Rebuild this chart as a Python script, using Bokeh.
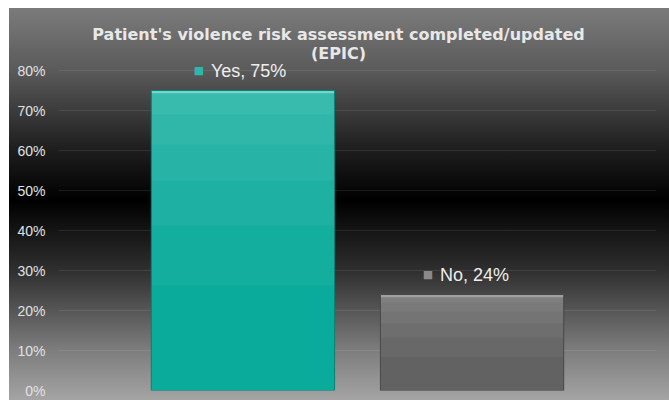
from bokeh.plotting import figure
from bokeh.models import ColumnDataSource, FactorRange, Range1d, LabelSet, Label, NumeralTickFormatter, FixedTicker
from bokeh.core.properties import value
from bokeh.embed import file_html
from bokeh.resources import INLINE

# ---- data ----
title_line1 = "Patient's violence risk assessment completed/updated"
title_line2 = "(EPIC)"
categories = ["Yes", "No"]
values = [0.75, 0.24]
bar_colors = ["#0aab9b", "#626262"]
edge_colors = ["#0a8176", "#484848"]
top_colors = ["#72d6cc", "#a0a0a0"]
marker_colors = ["#2ab8aa", "#8a8a8a"]
y_ticks = [0.0, 0.1, 0.2, 0.3, 0.4, 0.5, 0.6, 0.7, 0.8]

labels = [f"{c}, {round(v * 100)}%" for c, v in zip(categories, values)]
source = ColumnDataSource(dict(
    cat=categories,
    val=values,
    hl_bottom=[v - 0.007 for v in values],
    color=bar_colors,
    edge=edge_colors,
    top_color=top_colors,
    mcolor=marker_colors,
    label=labels,
    marker=["\u25A0"] * len(categories),
))

p = figure(
    width=669, height=400,
    x_range=FactorRange(factors=categories, range_padding=0.305, range_padding_units="absolute"),
    y_range=Range1d(0, 0.955),
    output_backend="svg", toolbar_location=None,
    min_border_left=58, min_border_right=13, min_border_top=8, min_border_bottom=10,
)

p.styles = {
    "background": "linear-gradient(to bottom, #7b7b7b 0%, #5a5a5a 16%, #1e1e1e 36%, #000000 49%, "
                  "#2f2f2f 67%, #7c7c7c 87%, #a4a4a4 100%) 9px 8px / calc(100% - 9px) calc(100% - 8px) no-repeat, #ffffff"
}
p.background_fill_alpha = 0
p.border_fill_alpha = 0
p.outline_line_color = None

# title (two centred lines, drawn inside the top of the frame)
for txt, yy in ((title_line1, 356.5), (title_line2, 337.5)):
    p.add_layout(Label(x=280, y=yy, x_units="screen", y_units="screen", text=txt,
                       text_align="center", text_baseline="alphabetic",
                       text_font="DejaVu Sans", text_font_style="bold",
                       text_font_size="16px", text_color="#e8e8e8"))

# bars with a soft lighter top (stacked translucent bands)
p.vbar(x="cat", top="val", width=0.8, source=source,
       fill_color="color", line_color=None)
for frac in (0.35, 0.55, 0.7, 0.82, 0.92):
    source.data[f"b{int(frac * 100)}"] = [v * frac for v in values]
    p.vbar(x="cat", top="val", bottom=f"b{int(frac * 100)}", width=0.8, source=source,
           fill_color="#ffffff", fill_alpha=0.045, line_color=None)
p.vbar(x="cat", top="val", bottom="hl_bottom", width=0.8, source=source,
       fill_color="top_color", line_color=None)
p.vbar(x="cat", top="val", width=0.8, source=source,
       fill_color=None, line_color="edge", line_width=1)

p.add_layout(LabelSet(x="cat", y="val", text="label", source=source,
                      x_offset=-32, y_offset=14, text_align="left", text_baseline="alphabetic",
                      text_font=value("Liberation Sans"), text_font_size="18px", text_color="#eeeeee"))
p.add_layout(LabelSet(x="cat", y="val", text="marker", source=source,
                      x_offset=-44, y_offset=20, text_align="center", text_baseline="middle",
                      text_font=value("DejaVu Sans"), text_font_size="11px", text_color="mcolor"))

p.xaxis.visible = False
p.xgrid.visible = False

p.yaxis.ticker = FixedTicker(ticks=y_ticks)
p.yaxis.formatter = NumeralTickFormatter(format="0%")
p.yaxis.axis_line_color = None
p.yaxis.major_tick_line_color = None
p.yaxis.minor_tick_line_color = None
p.yaxis.major_tick_out = 0
p.yaxis.major_tick_in = 0
p.yaxis.major_label_standoff = 13
p.yaxis.major_label_text_font = "Liberation Sans"
p.yaxis.major_label_text_font_size = "14px"
p.yaxis.major_label_text_color = "#e2e2e2"

p.ygrid.grid_line_color = "#ffffff"
p.ygrid.grid_line_alpha = 0.09
p.ygrid.grid_line_width = 1

open("out.html", "w").write(file_html(p, INLINE))
